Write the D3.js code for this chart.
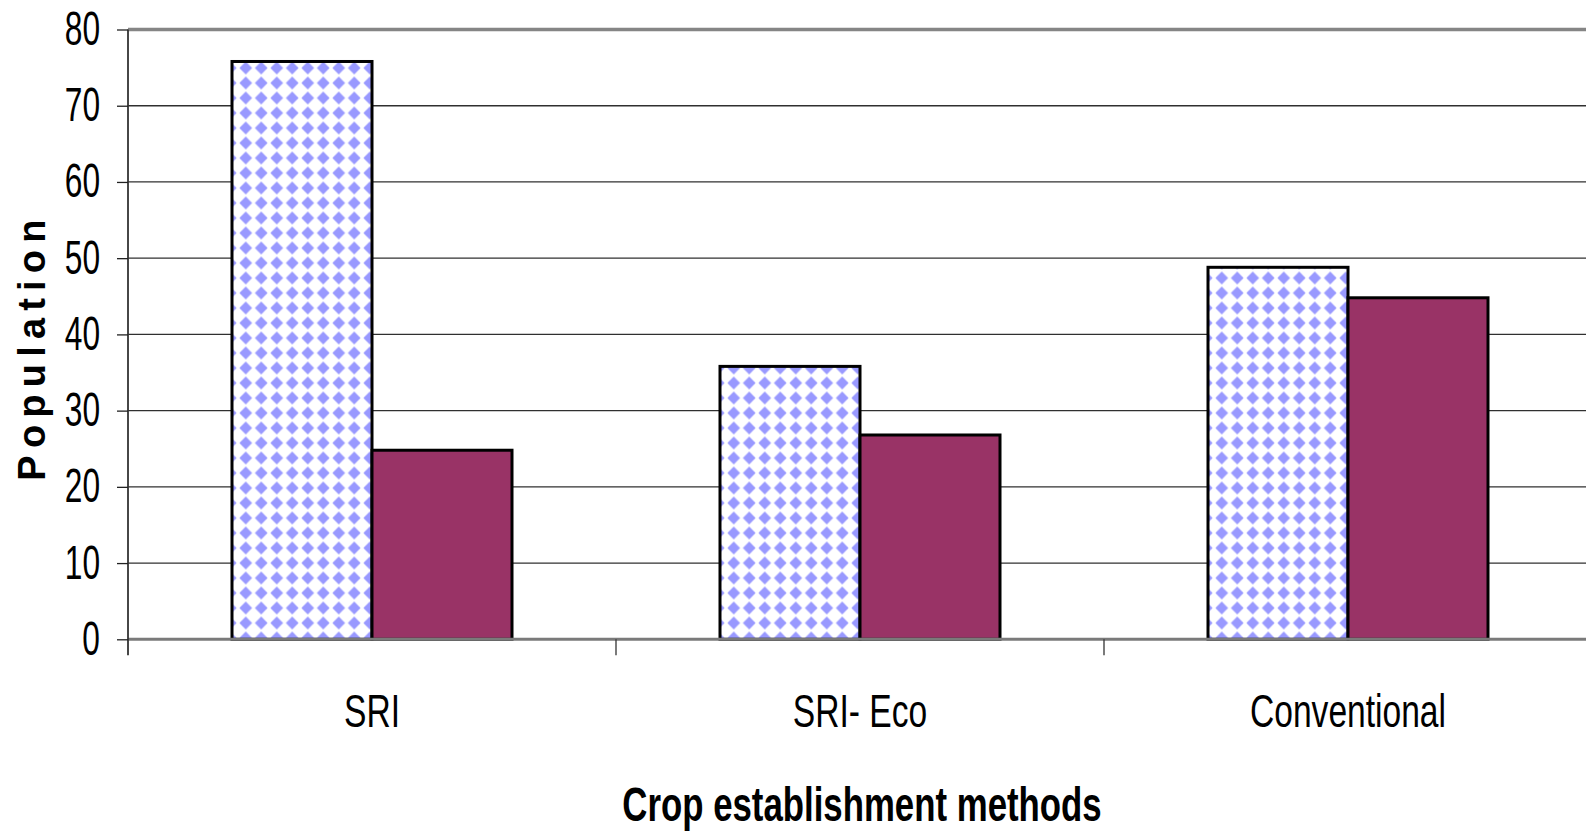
<!DOCTYPE html>
<html>
<head>
<meta charset="utf-8">
<script src="https://cdn.jsdelivr.net/npm/d3@7"></script>
<style>
  html, body { margin: 0; padding: 0; background: #fff; }
  svg { display: block; }
  text { font-family: "Liberation Sans", Arial, sans-serif; fill: #000; }
</style>
</head>
<body>
<svg id="chart" width="1586" height="833"></svg>
<script>
// Population by crop establishment method
const categories = ["SRI", "SRI- Eco", "Conventional"];
const seriesNames = ["Series 1", "Series 2"];
const series1 = [76, 36, 49];
const series2 = [25, 27, 45];
const yTicks = [0, 10, 20, 30, 40, 50, 60, 70, 80];
const xTitle = "Crop establishment methods";
const yTitle = "Population";

const rows = categories.map((c, i) => ({ category: c, values: [series1[i], series2[i]] }));

const svg = d3.select("#chart");
const W = 1586, H = 833;
const plot = { left: 128, top: 29.5, bottom: 639.3, band: 488 };
const border = 3;

const x0 = d3.scaleBand()
  .domain(categories)
  .range([plot.left, plot.left + plot.band * categories.length])
  .padding(0);
const x1 = d3.scaleBand()
  .domain(seriesNames)
  .range([(plot.band - 280) / 2, (plot.band + 280) / 2])
  .padding(0);
const y = d3.scaleLinear().domain([0, 80]).range([plot.bottom, plot.top]);

// Diamond checker pattern for the first series
const defs = svg.append("defs");
const pat = defs.append("pattern")
  .attr("id", "diamonds")
  .attr("patternUnits", "userSpaceOnUse")
  .attr("x", 1.5).attr("y", 0.5)
  .attr("width", 15.5).attr("height", 15);
pat.append("rect").attr("width", 15.5).attr("height", 15).attr("fill", "#ffffff");
pat.append("path")
  .attr("d", "M7.75,1.1 L14.1,7.5 L7.75,13.9 L1.4,7.5 Z")
  .attr("fill", "#9999ff");

const fills = ["url(#diamonds)", "#993366"];

// Horizontal gridlines
svg.append("g")
  .selectAll("line")
  .data(yTicks.filter(t => t > 0 && t < 80))
  .join("line")
  .attr("x1", plot.left).attr("x2", W)
  .attr("y1", d => y(d)).attr("y2", d => y(d))
  .attr("stroke", "#303030").attr("stroke-width", 1.3);

// Top border of the plot area
svg.append("line")
  .attr("x1", plot.left).attr("x2", W)
  .attr("y1", y(80)).attr("y2", y(80))
  .attr("stroke", "#858585").attr("stroke-width", 3.5);

// Bars (outline sits just inside the value line)
const groups = svg.append("g")
  .selectAll("g")
  .data(rows)
  .join("g")
  .attr("transform", d => `translate(${x0(d.category)},0)`);

groups.selectAll("rect")
  .data(d => d.values.map((v, i) => ({ key: seriesNames[i], value: v, i })))
  .join("rect")
  .attr("x", d => x1(d.key))
  .attr("y", d => y(d.value) + border / 2)
  .attr("width", x1.bandwidth())
  .attr("height", d => y(0) - y(d.value) - border / 2)
  .attr("fill", d => fills[d.i])
  .attr("stroke", "#000")
  .attr("stroke-width", border);

// Zero line
svg.append("line")
  .attr("x1", plot.left).attr("x2", W)
  .attr("y1", y(0)).attr("y2", y(0))
  .attr("stroke", "#7a7a7a").attr("stroke-width", 3);

// Y axis
const yAxis = d3.axisLeft(y).tickValues(yTicks).tickSize(11).tickFormat("");
const yg = svg.append("g").attr("transform", `translate(${plot.left},0)`).call(yAxis);
yg.select(".domain").attr("d", `M0,${y(80)}V${y(0) + 16}`).attr("stroke", "#333").attr("stroke-width", 1.8);
yg.selectAll(".tick line").attr("stroke", "#222").attr("stroke-width", 1.3);

// Y tick labels (condensed)
svg.append("g")
  .selectAll("text")
  .data(yTicks)
  .join("text")
  .attr("transform", d => `translate(100,${y(d) + 15.5}) scale(0.66,1)`)
  .attr("text-anchor", "end")
  .style("font-size", "48px")
  .text(d => d);

// Category separators below the axis
const catEdges = categories.map(c => x0(c));
svg.append("g")
  .selectAll("line")
  .data(catEdges.slice(1))
  .join("line")
  .attr("x1", d => d).attr("x2", d => d)
  .attr("y1", y(0)).attr("y2", y(0) + 16)
  .attr("stroke", "#333").attr("stroke-width", 1.3);

// Category labels
svg.append("g")
  .selectAll("text")
  .data(categories)
  .join("text")
  .attr("transform", d => `translate(${x0(d) + x0.bandwidth() / 2},727) scale(0.73,1)`)
  .attr("text-anchor", "middle")
  .style("font-size", "46px")
  .text(d => d);

// Axis titles
svg.append("text")
  .attr("transform", `translate(862,821) scale(0.71,1)`)
  .attr("text-anchor", "middle")
  .style("font-size", "49px")
  .style("font-weight", "bold")
  .text(xTitle);

svg.append("text")
  .attr("transform", `translate(45,${343 + 3.5}) rotate(-90)`)
  .attr("text-anchor", "middle")
  .style("font-size", "38px")
  .style("font-weight", "bold")
  .style("letter-spacing", "7.2px")
  .text(yTitle);
</script>
</body>
</html>
